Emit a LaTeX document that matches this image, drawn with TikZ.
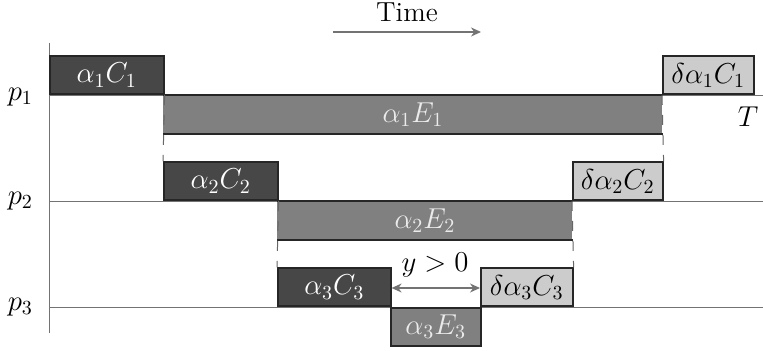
\documentclass[tikz,border=0pt]{standalone}
\usetikzlibrary{arrows.meta}
\begin{document}
\begin{tikzpicture}[x=0.5pt,y=-0.5pt,
  every node/.style={font=\fontsize{13.8}{16}\selectfont},
  cbox/.style={draw=black!85, line width=0.8pt, fill=black!72, text=white, inner sep=0pt, anchor=south west, minimum height=19pt},
  ebox/.style={fill=black!50, text=black!8, inner sep=0pt, anchor=north west, minimum height=19pt},
  dbox/.style={draw=black!85, line width=0.8pt, fill=black!20, text=black, inner sep=0pt, anchor=south west, minimum height=19pt},
  edge3/.style={draw=black!85, line width=0.8pt},
  guide/.style={draw=black!55, line width=0.4pt},
  dline/.style={draw=black!60, line width=0.5pt, dash pattern=on 5pt off 5pt},
  garrow/.style={draw=black!55, line width=0.7pt, -{Stealth[length=5pt,width=4.5pt]}},
  gdarrow/.style={draw=black!55, line width=0.7pt, {Stealth[length=5pt,width=4.5pt]}-{Stealth[length=5pt,width=4.5pt]}}]
\useasboundingbox (0,0) rectangle (763,351);
% axis and process lines
\coordinate (ax0) at (49,43);
\coordinate (ax1) at (49,333);
\draw[guide] (ax0) -- (ax1);
\coordinate (l1a) at (49,95);  \coordinate (l1b) at (763,95);
\coordinate (l2a) at (49,201); \coordinate (l2b) at (763,201);
\coordinate (l3a) at (49,307); \coordinate (l3b) at (763,307);
\draw[guide] (l1a) -- (l1b);
\draw[guide] (l2a) -- (l2b);
\draw[guide] (l3a) -- (l3b);
\node[anchor=east] (p1) at (40,97) {$p_1$};
\node[anchor=east] (p2) at (40,201) {$p_2$};
\node[anchor=east] (p3) at (40,307) {$p_3$};
\node (T) at (748,117) {$T$};
% time arrow
\node (time) at (407,12) {Time};
\coordinate (ta) at (333,32);
\coordinate (tb) at (481,32);
\draw[garrow] (ta) -- (tb);
% row 1
\node[cbox, minimum width=57pt] (c1) at (49,95) {$\alpha_1C_1$};
\node[ebox, minimum width=249.5pt] (e1) at (163,95) {$\alpha_1E_1$};
\node[dbox, minimum width=45.5pt] (d1) at (662,95) {$\delta\alpha_1C_1$};
\draw[edge3] (e1.north west) -- (e1.north east);
\draw[edge3] (e1.south west) -- (e1.south east);
% row 2
\node[cbox, minimum width=57pt] (c2) at (163,201) {$\alpha_2C_2$};
\node[ebox, minimum width=147.5pt] (e2) at (277,201) {$\alpha_2E_2$};
\node[dbox, minimum width=45pt] (d2) at (572,201) {$\delta\alpha_2C_2$};
\draw[edge3] (e2.north west) -- (e2.north east);
\draw[edge3] (e2.south west) -- (e2.south east);
% row 3
\node[cbox, minimum width=56.5pt] (c3) at (277,307) {$\alpha_3C_3$};
\node[ebox, draw=black!85, line width=0.8pt, minimum width=45pt] (e3) at (390,307) {$\alpha_3E_3$};
\node[dbox, minimum width=46pt] (d3) at (480,307) {$\delta\alpha_3C_3$};
% dashed guides
\draw[dline] (c1.south east) -- (c2.north west);
\draw[dline] (d1.south west) -- (d2.north east);
\draw[dline] (c2.south east) -- (c3.north west);
\draw[dline] (d2.south west) -- (d3.north east);
% y > 0 arrow
\coordinate (ya) at (c3.east |- 0,288);
\coordinate (yb) at (d3.west |- 0,288);
\draw[gdarrow] (ya) -- (yb);
\node (ylab) at (435,265) {$y>0$};
\end{tikzpicture}
\end{document}
